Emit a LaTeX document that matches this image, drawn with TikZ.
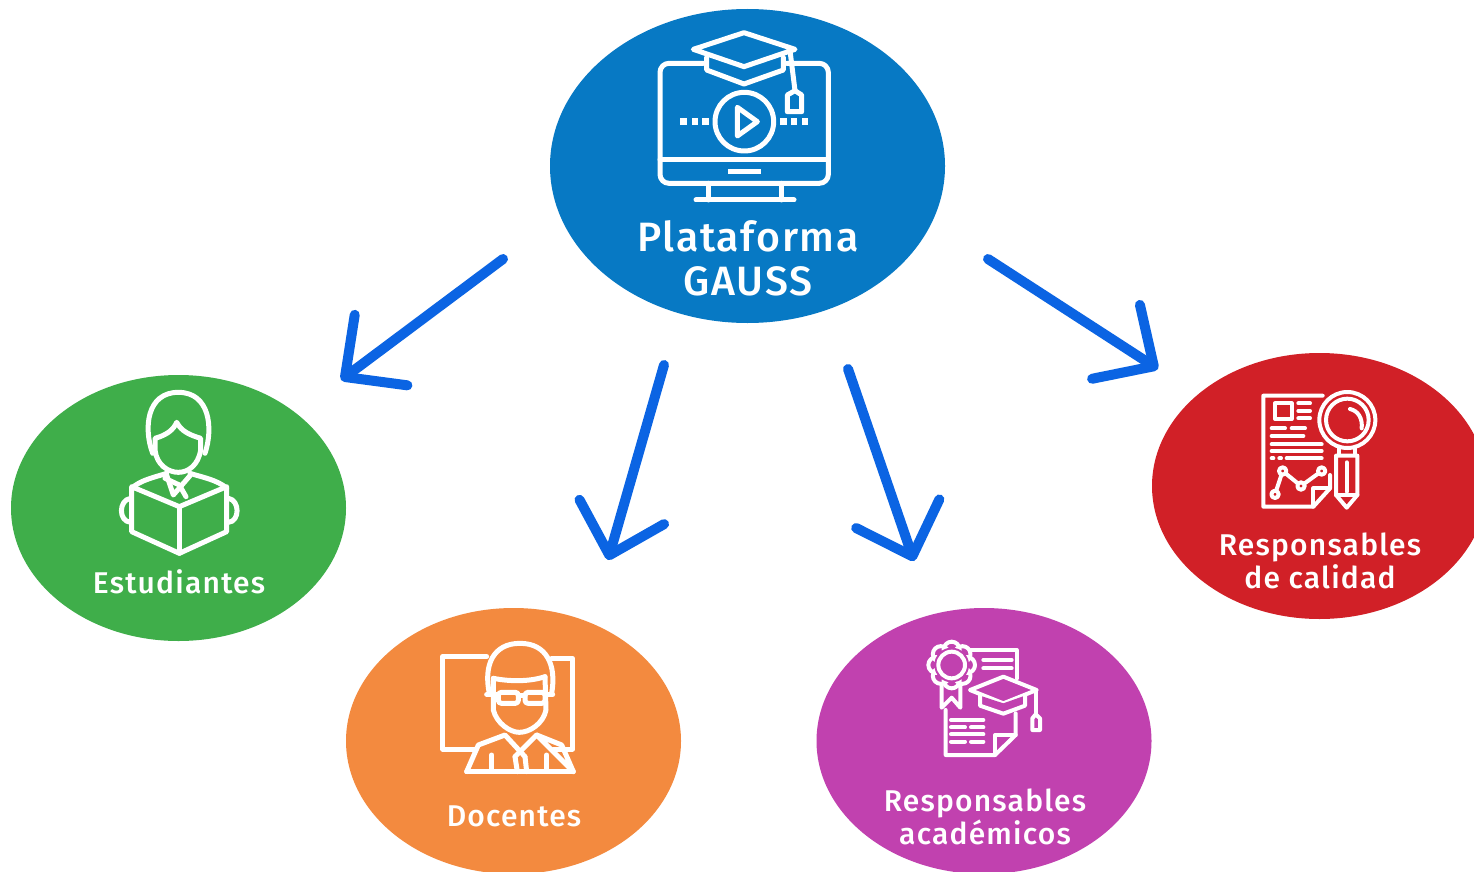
\documentclass[tikz,border=0pt]{standalone}
\usepackage{fontspec}
\setmainfont{Fira Sans Medium}[LetterSpace=4]
\usetikzlibrary{shapes.geometric,arrows.meta}
\definecolor{cblue}{HTML}{0779C4}
\definecolor{cgreen}{HTML}{3FAE4A}
\definecolor{corange}{HTML}{F38A3F}
\definecolor{cpurple}{HTML}{C141AF}
\definecolor{cred}{HTML}{D12027}
\definecolor{carrow}{HTML}{0B64E3}
\tikzset{
  blob/.style={ellipse,inner sep=0pt,minimum width=335pt,minimum height=266pt},
  lab/.style={text=white,font=\fontsize{30}{33}\selectfont,anchor=base,inner sep=0pt},
  biglab/.style={text=white,font=\fontsize{41}{44}\selectfont,anchor=base,inner sep=0pt},
  link/.style={carrow,line width=10pt,line cap=round,line join=round,
    -{Straight Barb[length=45pt,width=88pt,round]}},
  ic/.style={white,line width=5pt,line join=round,line cap=round},
  ict/.style={white,line width=4pt,line join=round,line cap=round},
}
\begin{document}
\begin{tikzpicture}[x=1pt,y=-1pt]
\useasboundingbox (0,0) rectangle (1474,872);
\clip (0,0) rectangle (1474,872);
\fill[white] (0,0) rectangle (1474,872);
\node[blob,fill=cblue,minimum width=395pt,minimum height=314pt] (plat) at (747.5,166) {};
\node[blob,fill=cgreen] (est) at (178.5,508) {};
\node[blob,fill=corange] (doc) at (513.5,741) {};
\node[blob,fill=cpurple] (aca) at (984,741) {};
\node[blob,fill=cred] (cal) at (1319.5,486) {};
\node[biglab] (t1) at (748,251) {Plataforma};
\node[biglab] (t2) at (748,295) {GAUSS};
\node[lab] (t3) at (179,593) {Estudiantes};
\node[lab] (t4) at (514,826) {Docentes};
\node[lab] (t5) at (985,811) {Responsables};
\node[lab] (t6) at (985,844) {académicos};
\node[lab] (t7) at (1320,555) {Responsables};
\node[lab] (t8) at (1320,588) {de calidad};
% connectors
\coordinate (a1s) at (503,259); \coordinate (a1e) at (341,380);
\coordinate (a2s) at (664,365); \coordinate (a2e) at (608,560);
\coordinate (a3s) at (848,369); \coordinate (a3e) at (914,561);
\coordinate (a4s) at (988,259); \coordinate (a4e) at (1158,369);
\draw[link] (a1s) -- (a1e);
\draw[link] (a2s) -- (a2e);
\draw[link] (a3s) -- (a3e);
\draw[link] (a4s) -- (a4e);
% monitor icon
\begin{scope}[shift={(640,20)},scale=1/3,ic]
\draw[rounded corners=9pt] (190,130) -- (60,130) -- (60,490) -- (565,490) -- (565,130) -- (440,130);
\draw (60,420) -- (565,420);
\draw[line width=5.5pt,line cap=butt] (265,455) -- (362,455);
\draw (205,490) -- (205,540) (425,490) -- (425,540);
\draw (168,540) -- (462,540);
\draw (160,88) -- (312,38) -- (465,88) -- (312,140) -- cycle;
\draw (200,112) -- (200,150) -- (312,192) -- (430,150) -- (430,112);
\draw (450,92) -- (465,212);
\draw (442,275) -- (442,225) -- (465,212) -- (485,225) -- (485,275) -- cycle;
\draw (313,305) circle[radius=88];
\draw (292,262) -- (292,348) -- (352,305) -- cycle;
\foreach \x in {130,165,197,430,462,495}{\fill[white] (\x-10,295) rectangle (\x+10,315);}
\end{scope}
% student icon
\begin{scope}[shift={(110,385)},scale=1/3,ic]
\draw (128,205) .. controls (100,130) and (110,22) .. (205,22) .. controls (300,22) and (310,130) .. (285,205);
\draw (135,160) .. controls (170,150) and (190,135) .. (200,112) .. controls (215,140) and (240,150) .. (272,160) -- (272,195) .. controls (265,240) and (235,262) .. (205,262) .. controls (175,262) and (140,240) .. (135,195) -- cycle;
\draw (65,310) .. controls (90,285) and (140,275) .. (170,265);
\draw (350,310) .. controls (325,285) and (270,275) .. (240,265);
\draw (170,270) -- (190,330) -- (240,272);
\draw (165,280) -- (208,300);
\draw (208,300) -- (228,335);
\draw (65,305) -- (208,365) -- (350,305) -- (350,440) -- (208,505) -- (65,440) -- cycle;
\draw (208,365) -- (208,505);
\draw (62,340) .. controls (25,345) and (25,410) .. (62,412);
\draw (355,340) .. controls (390,345) and (390,410) .. (355,412);
\end{scope}
% teacher icon
\begin{scope}[shift={(430,635)},scale=1/3,ic]
\draw (170,65) -- (38,65) -- (38,342) -- (135,342);
\draw (365,70) -- (428,70) -- (428,342) -- (370,342);
\draw (178,175) .. controls (160,90) and (190,25) .. (270,25) .. controls (350,25) and (380,90) .. (365,175);
\draw (190,130) .. controls (240,140) and (300,140) .. (345,125);
\draw (190,130) -- (190,225) .. controls (200,265) and (240,292) .. (268,292) .. controls (300,292) and (340,265) .. (348,225) -- (345,125);
\draw[rounded corners=3pt] (205,172) rectangle (265,205);
\draw[rounded corners=3pt] (285,172) rectangle (345,205);
\draw (265,182) -- (285,182) (170,178) -- (205,178) (345,178) -- (368,178);
\draw (110,410) -- (145,330) -- (225,300) -- (285,365);
\draw (320,300) -- (395,330) -- (430,410) -- cycle;
\draw (320,300) -- (255,365);
\draw (255,365) -- (262,410) (285,365) -- (290,410);
\draw (185,360) -- (185,408) (350,360) -- (350,408);
\draw (110,410) -- (430,410);
\end{scope}
% academic icon
\begin{scope}[shift={(915,635)},scale=1/3,ict]
\foreach \a in {0,45,...,315}{\draw (110,90) ++(\a:46) circle[radius=24];}
\fill[cpurple] (110,90) circle[radius=52];
\draw (110,90) circle[radius=40];
\draw (80,150) -- (80,218) -- (110,188) -- (136,218) -- (136,150);
\draw (165,45) -- (305,45) -- (305,130);
\draw (92,225) -- (92,360) -- (240,360) -- (302,300) -- (302,235);
\draw (240,360) -- (240,300) -- (302,300);
\draw (205,75) -- (290,75) (205,100) -- (290,100);
\draw (108,255) -- (205,255) (108,277) -- (150,277) (168,277) -- (205,277) (108,298) -- (205,298) (108,320) -- (150,320) (168,320) -- (205,320);
\fill[cpurple] (165,165) -- (265,125) -- (365,165) -- (265,205) -- cycle;
\draw (165,165) -- (265,125) -- (365,165) -- (265,205) -- cycle;
\fill[cpurple] (195,182) -- (195,212) -- (265,236) -- (330,212) -- (330,182) -- (265,205) -- cycle;
\draw (195,182) -- (195,212) -- (265,236) -- (330,212) -- (330,182);
\draw (362,165) -- (362,240);
\draw (352,285) -- (352,250) -- (362,238) -- (375,250) -- (375,285) -- cycle;
\end{scope}
% quality icon
\begin{scope}[shift={(1250,385)},scale=1/3,ict]
\draw (218,32) -- (40,32) -- (40,365) -- (190,365) -- (240,310) -- (240,270);
\draw (190,365) -- (190,310) -- (240,310);
\draw (75,55) rectangle (125,102);
\draw (145,55) -- (180,55) (145,78) -- (180,78) (145,100) -- (180,100);
\draw (65,130) -- (105,130) (125,130) -- (165,130) (65,153) -- (160,153) (65,178) -- (215,178) (65,198) -- (215,198);
\draw (65,220) -- (70,220) (88,220) -- (93,220) (110,220) -- (215,220);
\draw (75,328) -- (98,258) -- (153,303) -- (215,258);
\foreach \p in {(75,328),(98,258),(153,303),(215,258)}{\fill[cred] \p circle[radius=11];\draw \p circle[radius=11];}
\draw (292,105) circle[radius=84];
\draw (292,105) circle[radius=64];
\draw (300,72) .. controls (325,78) and (338,100) .. (335,130);
\draw (268,190) -- (268,210) (316,190) -- (316,210);
\draw (258,212) -- (322,212) -- (322,330) -- (290,368) -- (258,330) -- cycle;
\draw (290,232) -- (290,320);
\draw (258,330) -- (322,330);
\end{scope}
\end{tikzpicture}
\end{document}
